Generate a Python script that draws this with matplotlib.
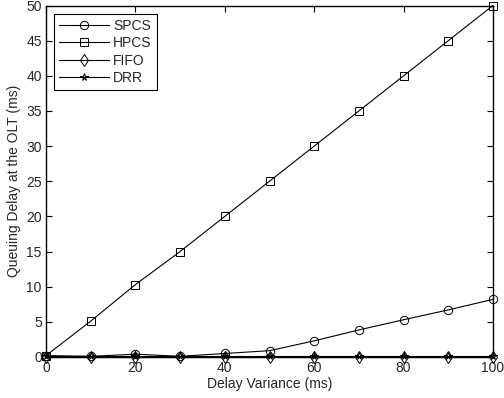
import matplotlib
matplotlib.use("Agg")
import matplotlib.pyplot as plt

x = [0, 10, 20, 30, 40, 50, 60, 70, 80, 90, 100]
spcs = [0.2, 0.1, 0.4, 0.1, 0.5, 0.9, 2.3, 3.85, 5.3, 6.7, 8.2]
hpcs = [0.2, 5.1, 10.3, 15.0, 20.0, 25.0, 30.0, 35.0, 40.0, 45.0, 50.0]
fifo = [0.05, 0.05, 0.05, 0.05, 0.05, 0.05, 0.05, 0.05, 0.05, 0.05, 0.05]
drr = [0.1, 0.1, 0.1, 0.1, 0.1, 0.1, 0.1, 0.1, 0.1, 0.1, 0.1]
xticks = [0, 20, 40, 60, 80, 100]
yticks = [0, 5, 10, 15, 20, 25, 30, 35, 40, 45, 50]

plt.rcParams['font.family'] = ['Liberation Sans', 'DejaVu Sans']
plt.rcParams['font.size'] = 10
txt = '#262626'

fig = plt.figure(figsize=(5.04, 3.98), dpi=100)
ax = fig.add_axes([46/504, 1 - 357/398, (493-46)/504, (357-5.5)/398])

kw = dict(color='black', linewidth=0.8, markerfacecolor='none', markeredgecolor='black',
          markeredgewidth=0.7, clip_on=False)
ax.plot(x, spcs, marker='o', markersize=6, label='SPCS', **kw)
ax.plot(x, hpcs, marker='s', markersize=5.5, label='HPCS', **kw)
ax.plot(x, fifo, marker='d', markersize=6.5, label='FIFO', **kw)
ax.plot(x, drr, marker='*', markersize=5.5, label='DRR', **kw)

ax.set_xlim(0, 100)
ax.set_ylim(0, 50)
ax.set_xticks(xticks)
ax.set_yticks(yticks)
ax.tick_params(direction='in', top=True, right=True, length=4, width=0.8, labelsize=10,
               colors='black', labelcolor=txt, pad=3)
for s in ax.spines.values():
    s.set_linewidth(1.0)
ax.set_xlabel('Delay Variance (ms)', fontsize=10, labelpad=1, color=txt)
ax.set_ylabel('Queuing Delay at the OLT (ms)', fontsize=10, labelpad=4, color=txt)

leg = ax.legend(loc='upper left', fancybox=False, edgecolor='black', framealpha=1,
                handlelength=3.6, borderaxespad=0.6, labelspacing=0.25, handletextpad=0.3,
                borderpad=0.35, fontsize=10)
leg.get_frame().set_linewidth(0.8)
for t in leg.get_texts():
    t.set_color(txt)

fig.savefig('out.png', dpi=100)
